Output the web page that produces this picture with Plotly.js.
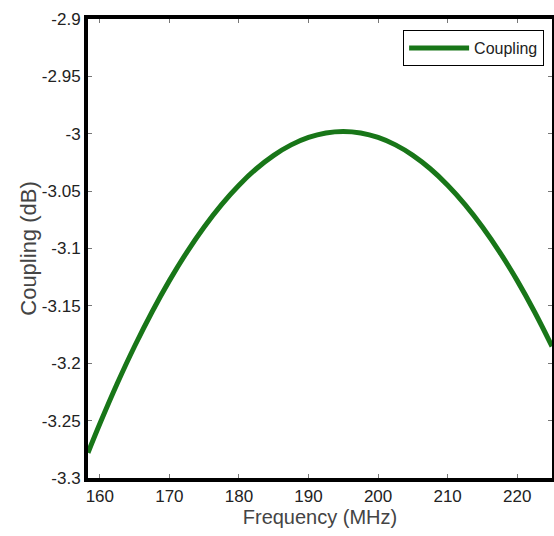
<!DOCTYPE html>
<html>
<head>
<meta charset="utf-8">
<script src="https://cdn.plot.ly/plotly-3.0.1.min.js"></script>
<style>html,body{margin:0;padding:0;background:#fff;}#chart{width:554px;height:536px;}</style>
</head>
<body>
<div id="chart"></div>
<script>
const freq = [158.3,160,162.5,165,167.5,170,172.5,175,177.5,180,182.5,185,187.5,190,192.5,195,197.5,200,202.5,205,207.5,210,212.5,215,217.5,220,222.5,225];
const coupling = [-3.2780,-3.2528,-3.2177,-3.1852,-3.1553,-3.1280,-3.1033,-3.0812,-3.0617,-3.0448,-3.0305,-3.0188,-3.0097,-3.0032,-2.9993,-2.9980,-2.9993,-3.0032,-3.0097,-3.0188,-3.0305,-3.0448,-3.0617,-3.0812,-3.1033,-3.1280,-3.1553,-3.1852];
const yTickVals = [-3.3,-3.25,-3.2,-3.15,-3.1,-3.05,-3,-2.95,-2.9];
const yTickText = ["-3.3","-3.25","-3.2","-3.15","-3.1","-3.05","-3","-2.95","-2.9"];
const xTickVals = [160,170,180,190,200,210,220];

const trace = {
  x: freq, y: coupling, type: 'scatter', mode: 'lines', name: 'Coupling',
  line: {color: 'rgb(24,118,24)', width: 5, shape: 'spline'}
};
const layout = {
  width: 554, height: 536,
  margin: {l: 88, r: 2, t: 19, b: 58},
  paper_bgcolor: '#fff', plot_bgcolor: '#fff',
  font: {family: 'Liberation Sans, Arial, sans-serif', color: '#222', size: 16},
  xaxis: {
    range: [158.3, 225.0], tickvals: xTickVals, ticks: 'inside', ticklen: 4, tickcolor: '#777',
    showline: true, linecolor: '#000', linewidth: 4, mirror: 'ticks', showgrid: false, zeroline: false,
    tickfont: {size: 17, color: '#222'},
    title: {text: 'Frequency (MHz)', font: {size: 20, color: '#444'}, standoff: 4}
  },
  yaxis: {
    range: [-3.3, -2.9], tickvals: yTickVals, ticktext: yTickText, ticks: 'inside', ticklen: 4, tickcolor: '#777',
    showline: true, linecolor: '#000', linewidth: 4, mirror: 'ticks', showgrid: false, zeroline: false,
    tickfont: {size: 17, color: '#222'},
    title: {text: 'Coupling (dB)', font: {size: 22, color: '#444'}, standoff: 0}
  },
  showlegend: true,
  legend: {x: 0.983, xanchor: 'right', y: 0.976, yanchor: 'top', bgcolor: '#fff', bordercolor: '#000', borderwidth: 1,
    font: {size: 16, color: '#222'}, itemwidth: 60}
};
Plotly.newPlot('chart', [trace], layout, {displayModeBar: false, staticPlot: true});
</script>
</body>
</html>
